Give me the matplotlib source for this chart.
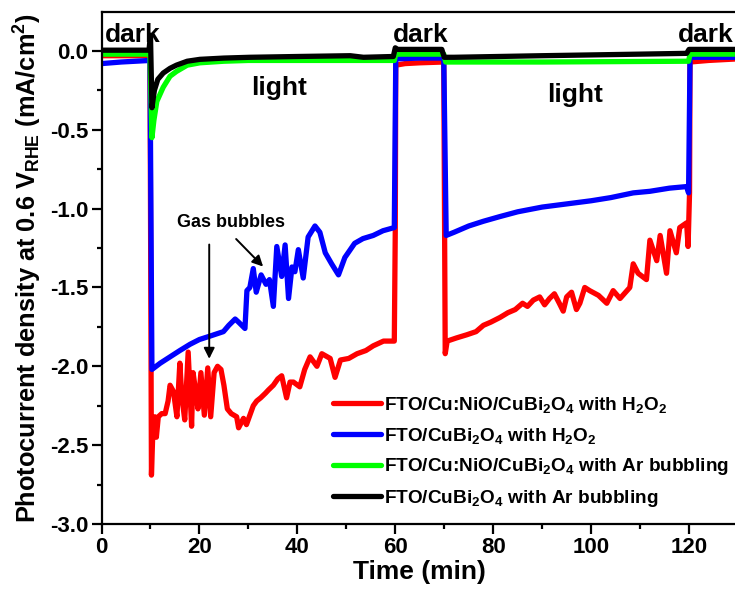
import numpy as np
import matplotlib
matplotlib.use('Agg')
import matplotlib.pyplot as plt

plt.rcParams['font.family'] = ['Liberation Sans', 'DejaVu Sans']
plt.rcParams['font.weight'] = 'bold'
plt.rcParams['mathtext.fontset'] = 'custom'
plt.rcParams['mathtext.rm'] = 'Liberation Sans:bold'
plt.rcParams['mathtext.it'] = 'Liberation Sans:bold'
plt.rcParams['mathtext.bf'] = 'Liberation Sans:bold'
plt.rcParams['mathtext.default'] = 'rm'
plt.rcParams['axes.unicode_minus'] = False

# chopped-light photocurrent, time in min, current in mA/cm2
t_red = [0, 3, 6, 9.9, 10.2, 10.5, 10.9, 11.2, 11.6, 12.3, 13.0, 13.6, 14.0, 14.7,
         15.4, 16.0, 16.4, 17.0, 17.7, 18.4, 18.7, 19.2, 19.7, 20.3, 21.0, 21.7,
         22.3, 23.0, 23.7, 24.4, 25.0, 25.7, 26.5, 27.6, 28.0, 29.0, 29.6, 31.0,
         31.7, 32.5, 33.5, 34.1, 35.1, 36.0, 36.8, 37.8, 38.5, 39.2, 40.5, 41.5,
         42.6, 44.0, 45.0, 46.7, 47.7, 48.8, 50.5, 52.2, 54.0, 55.5, 57.6, 59.8,
         60.0, 60.1, 62, 65, 69.9, 70.2, 70.6, 72.5, 74.6, 76.5, 78, 79.5, 81.4,
         83, 84.5, 86, 87, 88.2, 89.5, 90.5, 91.5, 92.5, 93.5, 94.3, 95.0, 96.0,
         97.0, 97.7, 98.7, 99.7, 101.5, 103.2, 104.5, 105.9, 107.9, 108.6,
         109.6, 111.3, 112.0, 113.4, 114.1, 115.4, 116.1, 117.4, 118.1, 119.5,
         119.8, 120.1, 120.2, 124, 130]
j_red = [-0.03, -0.03, -0.03, -0.03, -2.69, -2.40, -2.32, -2.45, -2.32, -2.30,
         -2.30, -2.22, -2.12, -2.16, -2.32, -1.98, -2.19, -2.34, -1.91, -2.38,
         -2.04, -2.15, -2.27, -2.04, -2.31, -2.01, -2.32, -2.04, -2.00, -2.02,
         -2.12, -2.27, -2.30, -2.32, -2.39, -2.33, -2.37, -2.25, -2.22, -2.20,
         -2.17, -2.15, -2.12, -2.08, -2.06, -2.20, -2.10, -2.10, -2.13, -2.02,
         -1.94, -2.00, -1.92, -1.95, -2.07, -1.96, -1.95, -1.92, -1.90, -1.87,
         -1.84, -1.84, -1.13, -0.09, -0.08, -0.075, -0.07, -1.92, -1.84, -1.82,
         -1.80, -1.78, -1.74, -1.72, -1.69, -1.66, -1.64, -1.60, -1.62, -1.58,
         -1.56, -1.61, -1.57, -1.54, -1.60, -1.65, -1.56, -1.53, -1.64, -1.60,
         -1.50, -1.52, -1.55, -1.60, -1.52, -1.57, -1.50, -1.35, -1.41, -1.45,
         -1.20, -1.33, -1.17, -1.41, -1.14, -1.28, -1.12, -1.09, -1.24, -0.90,
         -0.07, -0.06, -0.05]

t_blue = [0, 4, 9.9, 10.3, 12, 14, 16, 18.1, 20, 22, 24.9, 26, 27.3, 28, 29.3,
          29.7, 30.3, 31.0, 31.6, 32.6, 33.6, 34.3, 35.1, 35.8, 36.8, 37.5, 38.2,
          38.9, 39.5, 40.2, 41.2, 42.2, 43.6, 44.6, 45.7, 47.0, 48.4, 49.7, 51.7,
          53.4, 55.5, 57.5, 59.8, 60.1, 65, 69.9, 70.4, 72, 75, 78, 81.4, 85, 90,
          95, 100, 104, 108.6, 112, 116, 119.5, 119.9, 120.2, 125, 130]
j_blue = [-0.08, -0.07, -0.06, -2.02, -1.98, -1.94, -1.90, -1.86, -1.83, -1.81,
          -1.78, -1.74, -1.70, -1.72, -1.76, -1.52, -1.50, -1.38, -1.53, -1.42,
          -1.48, -1.45, -1.62, -1.24, -1.43, -1.23, -1.57, -1.37, -1.40, -1.26,
          -1.44, -1.18, -1.11, -1.15, -1.28, -1.35, -1.42, -1.31, -1.22, -1.19,
          -1.17, -1.14, -1.12, -0.05, -0.045, -0.045, -1.17, -1.15, -1.11, -1.08,
          -1.05, -1.02, -0.99, -0.97, -0.95, -0.93, -0.90, -0.89, -0.87, -0.86,
          -0.90, -0.04, -0.04, -0.04]

t_green = [0, 9.9, 10.3, 10.7, 11.3, 12.6, 14, 15.3, 17.5, 20.1, 25, 30, 59.8,
           60.1, 69.9, 70.3, 90, 119.9, 120.2, 130]
j_green = [-0.02, -0.02, -0.55, -0.44, -0.32, -0.23, -0.16, -0.13, -0.09, -0.075,
           -0.065, -0.06, -0.06, -0.02, -0.02, -0.07, -0.07, -0.065, -0.02, -0.02]

t_black = [0, 9.7, 10.0, 10.3, 10.8, 11.5, 12.6, 14, 15.3, 17.5, 20.1, 25, 30.3,
           40, 50.8, 53.5, 59.6, 60.0, 60.5, 69.5, 70.0, 72, 90, 110, 119.5,
           120.0, 130]
j_black = [0.005, 0.005, 0.10, -0.36, -0.25, -0.18, -0.14, -0.11, -0.09, -0.065,
           -0.053, -0.045, -0.04, -0.035, -0.03, -0.04, -0.035, 0.02, 0.01, 0.01,
           -0.04, -0.04, -0.03, -0.02, -0.015, 0.01, 0.01]

labels = [r'FTO/Cu:NiO/CuBi$_2$O$_4$ with H$_2$O$_2$',
          r'FTO/CuBi$_2$O$_4$ with H$_2$O$_2$',
          r'FTO/Cu:NiO/CuBi$_2$O$_4$ with Ar bubbling',
          r'FTO/CuBi$_2$O$_4$ with Ar bubbling']

fig = plt.figure(figsize=(7.35, 5.9), dpi=100)
ax = fig.add_axes([0.1381, 0.1119, 0.866, 0.8685])

style = dict(lw=3.8, solid_capstyle='round', solid_joinstyle='round')
ax.plot(t_red, j_red, color='#ff0000', label=labels[0], **style)
ax.plot(t_blue, j_blue, color='#0000ff', label=labels[1], **style)
ax.plot(t_green, j_green, color='#00ff00', label=labels[2], **style)
ax.plot(t_black, j_black, color='black', label=labels[3], **style)

ax.set_xlim(0, 130)
ax.set_ylim(-3.0, 0.25)
ax.set_xticks(np.arange(0, 121, 20))
ax.set_xticks(np.arange(10, 131, 20), minor=True)
ax.set_yticks(np.arange(-3.0, 0.01, 0.5))
ax.set_yticks(np.arange(-2.75, 0.01, 0.5), minor=True)
ax.yaxis.set_major_formatter(matplotlib.ticker.FormatStrFormatter('%.1f'))

for s in ax.spines.values():
    s.set_linewidth(1.6)
ax.tick_params(which='major', direction='out', length=7, width=1.6, labelsize=16, pad=2.5)
ax.tick_params(which='minor', direction='out', length=3.6, width=1.6)

ax.set_xlabel('Time (min)', fontsize=19, fontweight='bold', labelpad=1)
ax.set_ylabel(r'Photocurrent density at 0.6 V$_{RHE}$ (mA/cm$^2$)',
              fontsize=18.3, fontweight='bold', labelpad=4)

ax.text(0.7, 0.059, 'dark', fontsize=19, fontweight='bold', va='baseline')
ax.text(59.6, 0.059, 'dark', fontsize=19, fontweight='bold', va='baseline')
ax.text(117.8, 0.059, 'dark', fontsize=19, fontweight='bold', va='baseline')
ax.text(36.3, -0.235, 'light', fontsize=19, fontweight='bold', ha='center', va='center')
ax.text(96.8, -0.28, 'light', fontsize=19, fontweight='bold', ha='center', va='center')

ax.text(26.5, -1.085, 'Gas bubbles', fontsize=13, fontweight='bold', ha='center', va='center')
arrow = dict(arrowstyle='-|>', color='black', lw=1.4, mutation_scale=16)
ax.annotate('', xy=(22.0, -1.97), xytext=(22.0, -1.21), arrowprops=arrow)
ax.annotate('', xy=(33.4, -1.38), xytext=(27.1, -1.18), arrowprops=arrow)

ax.legend(loc='upper left', bbox_to_anchor=(0.3637, 0.252), frameon=False,
          fontsize=13.7, handlelength=2.5, handletextpad=0.2, labelspacing=0.56,
          borderpad=0, borderaxespad=0)

fig.savefig('out.png', dpi=100)
